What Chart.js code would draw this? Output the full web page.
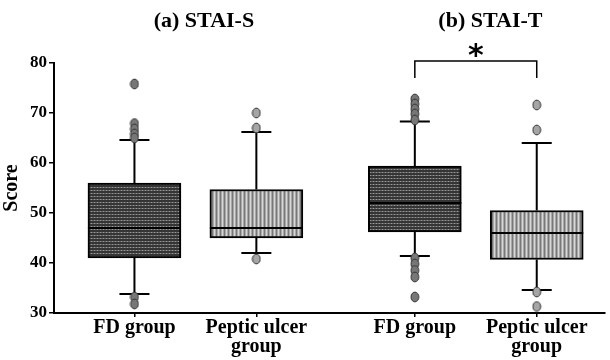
<!DOCTYPE html>
<html>
<head>
<meta charset="utf-8">
<script src="https://cdn.jsdelivr.net/npm/chart.js@4.4.1/dist/chart.umd.min.js"></script>
<style>
	body { margin: 0; background: #fff; }
</style>
</head>
<body>
<canvas id="chart" width="610" height="360"></canvas>
<script>
// data
const panels = ['(a) STAI-S', '(b) STAI-T'];
const groups = ['FD group', ['Peptic ulcer', 'group']];
// boxes in order: a-FD, a-PU, b-FD, b-PU
const boxMin = [33.8, 42, 41.4, 34.6];
const boxQ1 = [41, 45, 46.2, 40.7];
const boxMedian = [47, 47, 52, 46];
const boxQ3 = [56, 54.7, 59.4, 50.5];
const boxMax = [64.6, 66.2, 68.3, 64];
const outliers = [
	[75.8, 67.9, 66.8, 65.8, 65, 33.2, 31.8],
	[70, 67, 40.8],
	[72.8, 71.8, 70.8, 69.8, 68.6, 41, 39.8, 38.5, 37.2, 33.2],
	[71.6, 66.6, 34.2, 31.3]
];
const yTicks = [30, 40, 50, 60, 70, 80];
const sigPair = [2, 3];
const sigMark = '*';

// layout
const panelStep = 2.3;
const titleX = [0.57, 2.92];
const FONT = 'Liberation Serif';

const xPos = boxMedian.map((_, i) => Math.floor(i / 2) * panelStep + (i % 2));
const xLabels = xPos.map((_, i) => groups[i % 2]);

// fill textures
function makePattern(w, h, draw) {
	const c = document.createElement('canvas');
	c.width = w;
	c.height = h;
	draw(c.getContext('2d'));
	return c.getContext('2d').createPattern(c, 'repeat');
}
const darkFill = makePattern(3, 3, (g) => {
	g.fillStyle = '#353535';
	g.fillRect(0, 0, 3, 3);
	g.fillStyle = '#626262';
	g.fillRect(0, 1, 3, 1);
	g.fillStyle = '#999';
	g.fillRect(1, 1, 1, 1);
});
const lightFill = makePattern(4, 3, (g) => {
	g.fillStyle = '#a8a8a8';
	g.fillRect(0, 0, 4, 3);
	g.fillStyle = '#777';
	g.fillRect(0, 0, 1, 3);
	g.fillStyle = '#d8d8d8';
	g.fillRect(2, 0, 1, 3);
});

// oval outlier marker
function makeDot(fill) {
	const c = document.createElement('canvas');
	c.width = 10;
	c.height = 12;
	const g = c.getContext('2d');
	g.beginPath();
	g.ellipse(5, 6, 3.9, 4.9, 0, 0, Math.PI * 2);
	g.fillStyle = fill;
	g.fill();
	g.lineWidth = 1;
	g.strokeStyle = '#333';
	g.stroke();
	return c;
}
const darkDot = makeDot('#777');
const lightDot = makeDot('#a5a5a5');

const outlierPts = [[], []];
outliers.forEach((vals, i) => {
	vals.forEach((v) => outlierPts[i % 2].push({ x: xPos[i], y: v }));
});

// whiskers under the boxes
const whiskers = {
	id: 'whiskers',
	beforeDatasetsDraw(chart) {
		const { ctx, scales: { x, y } } = chart;
		ctx.save();
		ctx.strokeStyle = '#000';
		ctx.lineWidth = 2;
		xPos.forEach((v, i) => {
			const px = x.getPixelForValue(v);
			ctx.beginPath();
			ctx.moveTo(px, y.getPixelForValue(boxQ3[i]));
			ctx.lineTo(px, y.getPixelForValue(boxMax[i]));
			ctx.moveTo(px, y.getPixelForValue(boxQ1[i]));
			ctx.lineTo(px, y.getPixelForValue(boxMin[i]));
			ctx.moveTo(px - 15, y.getPixelForValue(boxMax[i]));
			ctx.lineTo(px + 15, y.getPixelForValue(boxMax[i]));
			ctx.moveTo(px - 15, y.getPixelForValue(boxMin[i]));
			ctx.lineTo(px + 15, y.getPixelForValue(boxMin[i]));
			ctx.stroke();
		});
		ctx.restore();
	}
};

// medians, panel titles and the significance bracket
const extras = {
	id: 'extras',
	afterDatasetsDraw(chart) {
		const { ctx, scales: { x, y } } = chart;
		const bars = chart.getDatasetMeta(0).data;
		ctx.save();
		ctx.strokeStyle = '#000';
		ctx.lineWidth = 2;
		bars.forEach((bar, i) => {
			const py = y.getPixelForValue(boxMedian[i]);
			ctx.beginPath();
			ctx.moveTo(bar.x - bar.width / 2, py);
			ctx.lineTo(bar.x + bar.width / 2, py);
			ctx.stroke();
		});

		ctx.fillStyle = '#000';
		ctx.font = 'bold 22px "' + FONT + '"';
		ctx.textAlign = 'center';
		ctx.textBaseline = 'middle';
		panels.forEach((t, p) => {
			ctx.fillText(t, x.getPixelForValue(titleX[p]), 21);
		});

		const x1 = x.getPixelForValue(xPos[sigPair[0]]);
		const x2 = x.getPixelForValue(xPos[sigPair[1]]);
		const yLow = y.getPixelForValue(77);
		const yTop = y.getPixelForValue(80.4);
		ctx.lineWidth = 1.5;
		ctx.beginPath();
		ctx.moveTo(x1, yLow);
		ctx.lineTo(x1, yTop);
		ctx.lineTo(x2, yTop);
		ctx.lineTo(x2, yLow);
		ctx.stroke();
		ctx.font = 'bold 30px "DejaVu Sans"';
		ctx.fillText(sigMark, (x1 + x2) / 2, yTop - 4);
		ctx.restore();
	}
};

new Chart(document.getElementById('chart'), {
	type: 'bar',
	data: {
		datasets: [
			{
				data: xPos.map((v, i) => ({ x: v, y: [boxQ1[i], boxQ3[i]] })),
				backgroundColor: xPos.map((_, i) => (i % 2 ? lightFill : darkFill)),
				borderColor: '#000',
				borderWidth: 2,
				borderSkipped: false,
				barThickness: 93,
				order: 2
			},
			{
				type: 'scatter',
				data: outlierPts[0],
				pointStyle: darkDot,
				order: 1
			},
			{
				type: 'scatter',
				data: outlierPts[1],
				pointStyle: lightDot,
				order: 1
			}
		]
	},
	options: {
		responsive: false,
		animation: false,
		devicePixelRatio: 1,
		layout: { padding: { top: 63, right: 0, left: 0, bottom: 0 } },
		plugins: {
			legend: { display: false },
			tooltip: { enabled: false }
		},
		scales: {
			x: {
				type: 'linear',
				offset: false,
				min: -0.66,
				max: 3.86,
				afterBuildTicks: (scale) => {
					scale.ticks = xPos.map((v) => ({ value: v }));
				},
				afterFit: (scale) => {
					scale.height = 47;
				},
				ticks: {
					autoSkip: false,
					maxRotation: 0,
					padding: 1,
					color: '#000',
					font: { family: FONT, size: 20, weight: 'bold', lineHeight: 0.95 },
					callback: (value, index) => xLabels[index]
				},
				grid: { offset: false, drawOnChartArea: false, tickLength: 4, color: '#000', lineWidth: 1.5 },
				border: { color: '#000', width: 2 }
			},
			y: {
				min: 30,
				max: 80,
				afterBuildTicks: (scale) => {
					scale.ticks = yTicks.map((v) => ({ value: v }));
				},
				afterFit: (scale) => {
					scale.width = 54;
				},
				ticks: {
					padding: 2,
					color: '#000',
					font: { family: FONT, size: 17, weight: 'bold' }
				},
				title: {
					display: true,
					text: 'Score',
					color: '#000',
					padding: 0,
					font: { family: FONT, size: 20, weight: 'bold' }
				},
				grid: { drawOnChartArea: false, tickLength: 5, color: '#000', lineWidth: 1.5 },
				border: { color: '#000', width: 2 }
			}
		}
	},
	plugins: [whiskers, extras]
});
</script>
</body>
</html>
